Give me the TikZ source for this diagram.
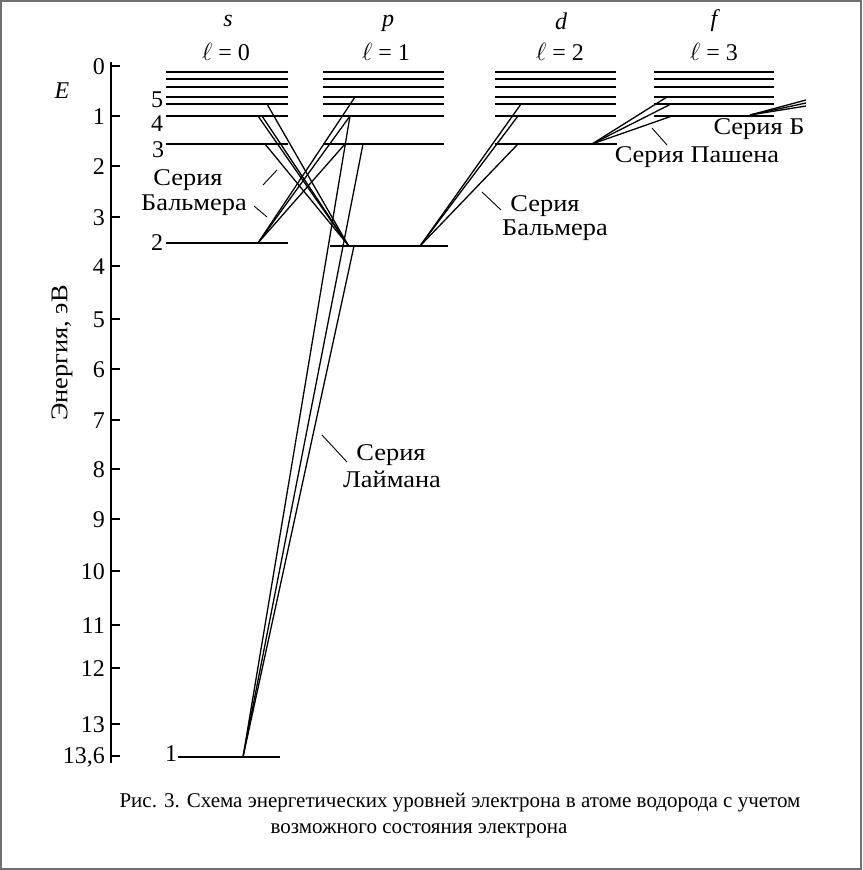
\documentclass[tikz,border=0pt]{standalone}
\usepackage{fontspec}
\setmainfont{Liberation Serif}
\newfontfamily\labfont[FakeStretch=1.1]{Liberation Serif}
\definecolor{framegray}{RGB}{112,112,112}
\begin{document}
\begin{tikzpicture}[x=1pt,y=-1pt,
  lev/.style={line width=2.2pt},
  trans/.style={line width=1.3pt},
  lead/.style={line width=0.9pt},
  axisline/.style={line width=2pt},
  num/.style={font=\fontsize{24}{24}\selectfont, inner sep=0pt},
  hdr/.style={font=\fontsize{24}{24}\selectfont\itshape, inner sep=0pt, anchor=base},
  lab/.style={font=\labfont\fontsize{24}{24}\selectfont, inner sep=0pt, anchor=base},
  captxt/.style={font=\fontsize{21}{21}\selectfont, inner sep=0pt, anchor=base}]
\useasboundingbox (0,0) rectangle (862,870);
\draw[framegray, line width=2pt] (1,1) rectangle (861,869);

% axis
\coordinate (axtop) at (111,62);
\coordinate (axbot) at (111,763);
\draw[axisline] (axtop) -- (axbot);
\foreach \v/\yy in {0/66,1/116,2/166,3/217,4/266,5/319,6/369,7/420,8/469,9/519,10/571,11/625,12/668,13/724,{13,6}/756} {
  \draw[line width=1.6pt] (111,\yy) -- (120,\yy);
  \node[num, anchor=east] at (105,\yy+1) {\v};
}
\node[hdr] (Elab) at (62,98) {E};
\node[lab, rotate=90, anchor=center] (axlab) at (62,353) {Энергия, эВ};

% headers
\node[hdr] (hs) at (228,27) {s};
\node[hdr] (hp) at (388,27) {p};
\node[hdr] (hd) at (561,29) {d};
\node[hdr] (hf) at (714,27) {f};
\node[num, anchor=base] (ls) at (226,60) {$\ell$ = 0};
\node[num, anchor=base] (lp) at (386,60) {$\ell$ = 1};
\node[num, anchor=base] (ld) at (560,60) {$\ell$ = 2};
\node[num, anchor=base] (lf) at (714,60) {$\ell$ = 3};

% levels
\foreach \yy in {72,79,87,97,104,116} {
  \draw[lev] (166,\yy) -- (288,\yy);
  \draw[lev] (323,\yy) -- (444,\yy);
  \draw[lev] (495,\yy) -- (616,\yy);
  \draw[lev] (654,\yy) -- (774,\yy);
}
\draw[lev] (166,144) -- (288,144);
\draw[lev] (323,144) -- (444,144);
\draw[lev] (495,144) -- (617,144);
\draw[lev] (166,243) -- (288,243);
\draw[lev] (330,246) -- (448,246);
\draw[lev] (178,757) -- (280,757);

% level numbers
\node[num] (n5) at (157,100) {5};
\node[num] (n4) at (157,124) {4};
\node[num] (n3) at (158,150) {3};
\node[num] (n2) at (157,243) {2};
\node[num] (n1) at (171,754) {1};

% transition end points
\coordinate (s5) at (267,104);
\coordinate (s4) at (258,116);
\coordinate (s4b) at (262,116);
\coordinate (s3) at (265,144);
\coordinate (s2) at (258,243);
\coordinate (s1) at (243,757);
\coordinate (p5) at (355,97);
\coordinate (p4) at (350,116);
\coordinate (p3) at (345,144);
\coordinate (p2a) at (348,245);
\coordinate (p3r) at (363,144);
\coordinate (p2r) at (354,246);
\coordinate (p2b) at (420,246);
\coordinate (d5) at (521,104);
\coordinate (d4) at (518,116);
\coordinate (d3) at (518,144);
\coordinate (d3P) at (592,144);
\coordinate (f6) at (667,97);
\coordinate (f5) at (671,104);
\coordinate (f4) at (672,116);
\coordinate (fB) at (750,115);
\coordinate (gB1) at (806,100);
\coordinate (gB2) at (806,103);
\coordinate (gB3) at (806,106);

% Balmer (left)
\draw[trans] (s5) -- (p2a);
\draw[trans] (s4) -- (p2a);
\draw[trans] (s4b) -- (p2a);
\draw[trans] (s3) -- (p2a);
\draw[trans] (p5) -- (s2);
\draw[trans] (p4) -- (s2);
\draw[trans] (p3) -- (s2);
% Lyman
\draw[trans] (p4) -- (s1);
\draw[trans] (p3r) -- (s1);
\draw[trans] (p2r) -- (s1);
% Balmer (right)
\draw[trans] (d5) -- (p2b);
\draw[trans] (d4) -- (p2b);
\draw[trans] (d3) -- (p2b);
% Paschen
\draw[trans] (d3P) -- (f6);
\draw[trans] (d3P) -- (f5);
\draw[trans] (d3P) -- (f4);
% Series B
\draw[trans] (fB) -- (gB1);
\draw[trans] (fB) -- (gB2);
\draw[trans] (fB) -- (gB3);

% labels and leaders
\node[lab] (bl1) at (188,185) {Серия};
\node[lab] (bl2) at (194,210) {Бальмера};
\coordinate (lb1a) at (263,185); \coordinate (lb1b) at (277,170);
\coordinate (lb2a) at (254,206); \coordinate (lb2b) at (267,217);
\draw[lead] (lb1a) -- (lb1b);
\draw[lead] (lb2a) -- (lb2b);

\node[lab] (br1) at (545,211) {Серия};
\node[lab] (br2) at (555,235) {Бальмера};
\coordinate (lr1a) at (482,192); \coordinate (lr1b) at (501,210);
\draw[lead] (lr1a) -- (lr1b);

\node[lab] (ly1) at (391,460) {Серия};
\node[lab] (ly2) at (392,487) {Лаймана};
\coordinate (ll1a) at (322,435); \coordinate (ll1b) at (347,462);
\draw[lead] (ll1a) -- (ll1b);

\node[lab] (pa) at (697,162) {Серия Пашена};
\coordinate (lp1a) at (652,128); \coordinate (lp1b) at (667,145);
\draw[lead] (lp1a) -- (lp1b);

\node[lab] (sb) at (759,134) {Серия Б};

% caption
\node[captxt] (cap1) at (460,807) {Рис. 3. Схема энергетических уровней электрона в атоме водорода с учетом};
\node[captxt] (cap2) at (419,833) {возможного состояния электрона};
\end{tikzpicture}
\end{document}
